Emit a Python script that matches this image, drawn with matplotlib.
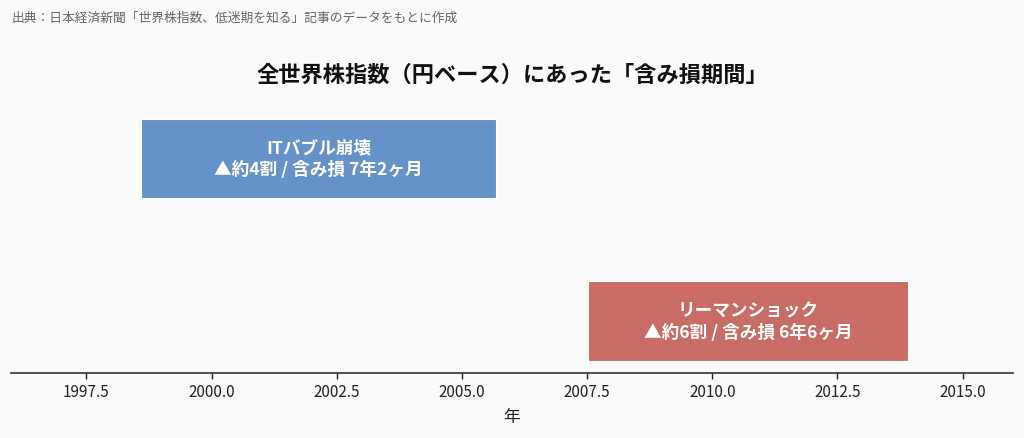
import matplotlib
matplotlib.use("Agg")
import matplotlib.pyplot as plt

plt.rcParams['font.family'] = ['Noto Sans CJK JP', 'DejaVu Sans']

# 含み損期間（年）
events = ["リーマンショック", "ITバブル崩壊"]
starts = [2007.52, 1998.59]
ends = [2013.91, 2005.68]
losses = ["▲約6割 / 含み損 6年6ヶ月", "▲約4割 / 含み損 7年2ヶ月"]
colors = ["#C86C65", "#6592C9"]

bg = "#FAFAFA"
fig = plt.figure(figsize=(10.24, 4.39), dpi=100, facecolor=bg)
ax = fig.add_axes([0.011, 0.1487, 0.978, 0.606], facecolor=bg)

for i, (name, s, e, txt, c) in enumerate(zip(events, starts, ends, losses, colors)):
    ax.barh(i, e - s, left=s, height=0.49, color=c, edgecolor="white", linewidth=0.8)
    ax.text((s + e) / 2, i, name + "\n" + txt, ha="center", va="center",
            color="white", fontsize=12.7, fontweight="bold", linespacing=1.25)

ax.set_xlim(1996, 2016)
ax.set_ylim(-0.32, 1.32)
ax.set_xticks([1997.5, 2000.0, 2002.5, 2005.0, 2007.5, 2010.0, 2012.5, 2015.0])
ax.set_xticklabels(["1997.5", "2000.0", "2002.5", "2005.0", "2007.5", "2010.0", "2012.5", "2015.0"])
ax.tick_params(axis="x", labelsize=11, colors="#222222", length=4, width=1)
ax.set_yticks([])
for side in ["left", "right", "top"]:
    ax.spines[side].set_visible(False)
ax.spines["bottom"].set_color("#222222")
ax.spines["bottom"].set_linewidth(1.1)

ax.set_xlabel("年", fontsize=12, color="#222222", labelpad=6)

fig.text(0.5, 1 - 75 / 439, "全世界株指数（円ベース）にあった「含み損期間」",
         ha="center", va="center", fontsize=16, fontweight="bold", color="#111111")
fig.text(12 / 1024, 1 - 18 / 439, "出典：日本経済新聞「世界株指数、低迷期を知る」記事のデータをもとに作成",
         ha="left", va="center", fontsize=9.2, color="#666666")

fig.savefig("out.png", dpi=100, facecolor=bg)
